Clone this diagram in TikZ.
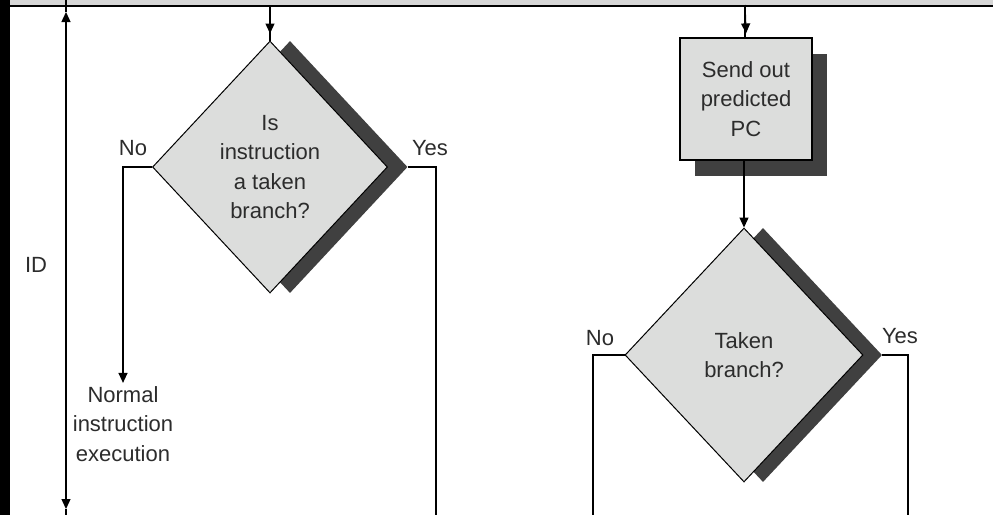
\documentclass[tikz,border=0pt]{standalone}
\usepackage{fontspec}
\setmainfont{Liberation Sans}
\usetikzlibrary{shapes.geometric,arrows.meta,calc}
\definecolor{boxgray}{HTML}{DCDDDC}
\definecolor{shadowgray}{HTML}{404040}
\definecolor{txt}{HTML}{2C2C2C}
\definecolor{bandgray}{HTML}{D6D6D6}
\begin{document}
\begin{tikzpicture}[x=1pt,y=-1pt,
  font=\fontsize{22}{29.5}\selectfont,
  every node/.style={text=txt},
  dia/.style={diamond, draw=black, line width=1pt, fill=boxgray, inner sep=0pt, align=center},
  diashadow/.style={diamond, fill=shadowgray, inner sep=0pt},
  procbox/.style={rectangle, draw=black, line width=1.2pt, fill=boxgray, align=center, inner sep=0pt},
  boxshadow/.style={rectangle, fill=shadowgray, inner sep=0pt},
  conn/.style={line width=1.3pt, draw=black},
  tip/.style={Triangle[length=10pt,width=9pt]},
  arr/.style={conn, -{Triangle[length=10pt,width=9pt]}},
  darr/.style={conn, {Triangle[length=10pt,width=9pt]}-{Triangle[length=10pt,width=9pt]}}
]
% background and frame
\fill[white] (0,0) rectangle (993,515);
\useasboundingbox (0,0) rectangle (993,515);
\fill[bandgray] (10,0) rectangle (993,5);
\draw[line width=2pt] (10,5.5) -- (993,5.5);
\fill[black] (0,0) rectangle (10,515);

% shadows
\node[diashadow, minimum width=235pt, minimum height=252pt] (d1s) at (290,167) {};
\node[diashadow, minimum width=238pt, minimum height=254pt] (d2s) at (763,355) {};
\node[boxshadow, minimum width=132pt, minimum height=122pt] (pcs) at (761,115) {};

% main shapes
\node[dia, minimum width=235pt, minimum height=252pt] (d1) at (270,167) {Is\\instruction\\a taken\\branch?};
\node[procbox, minimum width=132pt, minimum height=122pt] (pc) at (746,99) {Send out\\predicted\\PC};
\node[dia, minimum width=238pt, minimum height=254pt] (d2) at (744,355) {Taken\\branch?};

% labels
\node (idl) at (36,265) {ID};
\node (no1) at (133,148) {No};
\node (yes1) at (430,148) {Yes};
\node (no2) at (600,338) {No};
\node (yes2) at (900,336) {Yes};
\node[align=center] (normal) at (123,424) {Normal\\instruction\\execution};

% coordinates
\coordinate (idtop) at (66,0);
\coordinate (ida) at (66,12);
\coordinate (idb) at (66,509);
\coordinate (idbot) at (66,515);
\coordinate (t1) at (270,5);
\coordinate (t2) at (745,5);
\coordinate (y1end) at (436,515);
\coordinate (n2end) at (593,515);
\coordinate (y2end) at (908,515);

% connectors
\draw[conn] (idtop) -- (ida);
\draw[darr] (ida) -- (idb);
\draw[conn] (idb) -- (idbot);

\draw[conn] (t1) -- (d1.north);
\draw[arr] (t1) -- ($(d1.north)+(0,-7)$);
\draw[arr] (t2) -- ($(pc.north)+(0,-4)$);
\draw[conn] (t2) -- (pc.north -| t2);
\draw[arr] (d2.north |- pc.south) -- (d2.north);

\draw[arr] (d1.west) -| (normal.north);
\draw[conn] (d1s.east) -| (y1end);
\draw[conn] (d2.west) -| (n2end);
\draw[conn] (d2s.east) -| (y2end);
\end{tikzpicture}
\end{document}
